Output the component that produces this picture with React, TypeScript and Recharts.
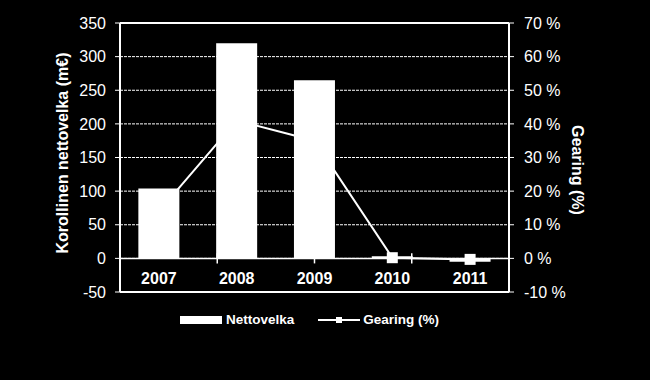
import {
  ComposedChart,
  Bar,
  Line,
  XAxis,
  YAxis,
  CartesianGrid,
  ReferenceLine,
  Legend,
} from "recharts";

const years = ["2007", "2008", "2009", "2010", "2011"];
const nettovelka = [104, 320, 265, 3, -5];
const gearing = [14, 41, 35, 0.2, -0.3];

const leftTicks = [-50, 0, 50, 100, 150, 200, 250, 300, 350];
const rightTicks = [-10, 0, 10, 20, 30, 40, 50, 60, 70];
// category boundaries on the hidden numeric axis (0..5)
const dividers = [1, 2, 3, 4];

const data = years.map((year, i) => ({
  year,
  nettovelka: nettovelka[i],
  gearing: gearing[i],
}));

const FONT = "'Liberation Sans', Arial, sans-serif";
const WHITE = "#ffffff";

function YearTick({ x, y, payload }: any) {
  return (
    <text
      x={x}
      y={y - 8}
      textAnchor="middle"
      fill={WHITE}
      fontSize={16}
      fontWeight="bold"
      fontFamily={FONT}
    >
      {payload.value}
    </text>
  );
}

function SquareDot({ cx, cy, index }: any) {
  if (cx == null || cy == null) return null;
  return <rect key={index} x={cx - 5.5} y={cy - 5.5} width={11} height={11} fill={WHITE} />;
}

function LeftTitle({ viewBox }: any) {
  const x = viewBox.x + 12;
  const y = viewBox.y + viewBox.height / 2 - 4.5;
  return (
    <text
      x={x}
      y={y}
      transform={`rotate(-90, ${x}, ${y})`}
      textAnchor="middle"
      dominantBaseline="central"
      fill={WHITE}
      fontSize={16}
      fontWeight="bold"
      fontFamily={FONT}
    >
      Korollinen nettovelka (m€)
    </text>
  );
}

function RightTitle({ viewBox }: any) {
  const x = viewBox.x + 68;
  const y = viewBox.y + viewBox.height / 2 + 12.5;
  return (
    <text
      x={x}
      y={y}
      transform={`rotate(90, ${x}, ${y})`}
      textAnchor="middle"
      dominantBaseline="central"
      fill={WHITE}
      fontSize={16}
      fontWeight="bold"
      fontFamily={FONT}
    >
      Gearing (%)
    </text>
  );
}

function ChartLegend() {
  const textStyle = {
    color: WHITE,
    fontSize: 13.5,
    fontWeight: "bold" as const,
    fontFamily: FONT,
    lineHeight: "16px",
  };
  return (
    <div style={{ display: "flex", alignItems: "center", paddingLeft: 180 }}>
      <div style={{ width: 42, height: 8, background: WHITE, marginRight: 4 }} />
      <span style={textStyle}>Nettovelka</span>
      <svg width={42} height={16} style={{ marginLeft: 24, marginRight: 3 }}>
        <line x1={0} y1={8} x2={42} y2={8} stroke={WHITE} strokeWidth={2} />
        <rect x={18} y={5} width={6} height={6} fill={WHITE} />
      </svg>
      <span style={textStyle}>Gearing (%)</span>
    </div>
  );
}

export default function App() {
  return (
    <div
      style={{
        position: "fixed",
        left: 0,
        top: 0,
        width: 650,
        height: 380,
        background: "#000000",
      }}
    >
      <ComposedChart
        width={650}
        height={380}
        data={data}
        margin={{ top: 23, right: 71, bottom: 58, left: 50 }}
        barCategoryGap="23.6%"
      >
        <CartesianGrid
          yAxisId="left"
          vertical={false}
          stroke={WHITE}
          strokeDasharray="3 1"
          strokeWidth={1}
        />
        <XAxis
          dataKey="year"
          height={30}
          axisLine={false}
          tickLine={false}
          tickSize={0}
          tickMargin={0}
          tick={<YearTick />}
          interval={0}
        />
        <XAxis xAxisId="div" type="number" domain={[0, 5]} hide />
        <YAxis
          yAxisId="left"
          width={70}
          domain={[-50, 350]}
          ticks={leftTicks}
          interval={0}
          axisLine={{ stroke: WHITE, strokeWidth: 2 }}
          tickLine={{ stroke: WHITE, strokeWidth: 1 }}
          tickSize={5}
          tickMargin={9}
          tick={{ fill: WHITE, fontSize: 16, fontFamily: FONT }}
          label={{ content: <LeftTitle /> }}
        />
        <YAxis
          yAxisId="right"
          orientation="right"
          width={70}
          domain={[-10, 70]}
          ticks={rightTicks}
          interval={0}
          axisLine={{ stroke: WHITE, strokeWidth: 2 }}
          tickLine={{ stroke: WHITE, strokeWidth: 1 }}
          tickSize={5}
          tickMargin={10}
          tickFormatter={(v) => `${v} %`}
          tick={{ fill: WHITE, fontSize: 16, fontFamily: FONT }}
          label={{ content: <RightTitle /> }}
        />
        <Legend
          layout="horizontal"
          verticalAlign="middle"
          align="center"
          wrapperStyle={{ top: 312, left: 0, width: 650 }}
          content={<ChartLegend />}
        />
        <Bar
          yAxisId="left"
          dataKey="nettovelka"
          name="Nettovelka"
          fill={WHITE}
          isAnimationActive={false}
        />
        <Line
          yAxisId="right"
          type="linear"
          dataKey="gearing"
          name="Gearing (%)"
          stroke={WHITE}
          strokeWidth={2}
          dot={<SquareDot />}
          activeDot={false}
          isAnimationActive={false}
        />
        <ReferenceLine yAxisId="left" y={350} stroke={WHITE} strokeWidth={2} />
        <ReferenceLine yAxisId="left" y={-50} stroke={WHITE} strokeWidth={2} />
        <ReferenceLine yAxisId="left" y={0} stroke={WHITE} strokeWidth={1.5} />
        {dividers.map((d) => (
          <ReferenceLine
            key={d}
            xAxisId="div"
            yAxisId="left"
            segment={[
              { x: d, y: -7.5 },
              { x: d, y: 7.5 },
            ]}
            stroke={WHITE}
            strokeWidth={1.5}
          />
        ))}
      </ComposedChart>
    </div>
  );
}
